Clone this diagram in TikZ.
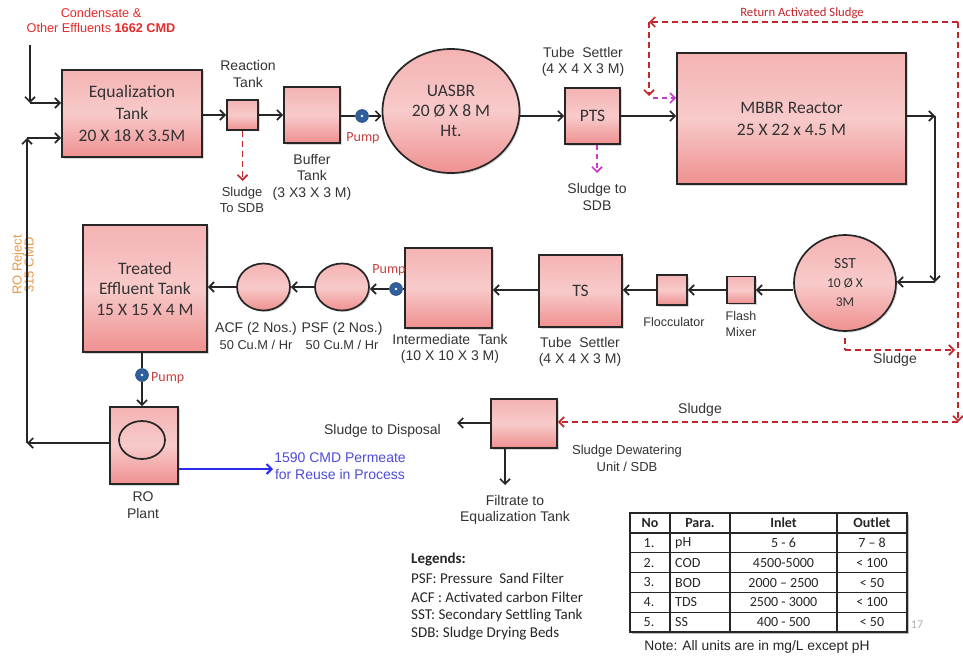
\documentclass[tikz,border=0pt]{standalone}
\usepackage{fontspec}
\setmainfont{Carlito}
\newfontfamily\arial{Liberation Sans}
\usetikzlibrary{arrows.meta,shapes.geometric,shadows}
\definecolor{pkT}{HTML}{F4B3B3}
\definecolor{pkM}{HTML}{F8CACA}
\definecolor{pkB}{HTML}{EF9090}
\definecolor{redT}{HTML}{E52B2B}
\definecolor{dred}{HTML}{C4262E}
\definecolor{mag}{HTML}{C83BC8}
\definecolor{bline}{HTML}{2B2BF0}
\definecolor{btext}{HTML}{4D4DD9}
\definecolor{orng}{HTML}{E39A4A}
\definecolor{pred}{HTML}{C84040}
\definecolor{pblue}{HTML}{2F5F9E}
\begin{document}
\begin{tikzpicture}[x=1pt,y=-1pt,
  tank/.style={draw=black!85, line width=1.7pt, top color=pkT, bottom color=pkB, middle color=pkM,
    drop shadow={shadow xshift=1.5pt,shadow yshift=-1.5pt,opacity=0.3},
    inner sep=0pt, align=center, text=black!80, font=\fontsize{17.5}{22}\selectfont},
  ell/.style={tank, ellipse},
  lbl/.style={align=center, inner sep=0pt, text=black!80, font=\arial\fontsize{14}{16.5}\selectfont},
  slbl/.style={lbl, font=\arial\fontsize{12.5}{16}\selectfont},
  pumpc/.style={circle, minimum size=13pt, inner sep=0pt, fill=pblue, draw=pblue!60!black, line width=0.4pt,
    path picture={\fill[white] (path picture bounding box.center) circle (1.4pt);}},
  pumpl/.style={inner sep=0pt, text=pred, font=\fontsize{14}{15}\selectfont},
  tip/.style={-{Straight Barb[length=5pt,width=10pt]}},
  flow/.style={draw=black!85, line width=1.7pt, tip},
  plain/.style={draw=black!85, line width=1.7pt},
  rflow/.style={draw=dred, line width=1.7pt, dash pattern=on 6pt off 4pt, tip},
  rline/.style={draw=dred, line width=1.7pt, dash pattern=on 6pt off 4pt},
  mflow/.style={draw=mag, line width=1.7pt, dash pattern=on 5pt off 4pt, tip},
  bflow/.style={draw=bline, line width=2pt, tip},
  cell/.style={inner sep=0pt, text=black!85, font=\fontsize{14}{15}\selectfont},
  hcell/.style={cell, font=\bfseries\fontsize{14}{15}\selectfont},
  legl/.style={anchor=west, inner sep=0pt, text=black!85, font=\fontsize{15}{17}\selectfont}
]
\useasboundingbox (0,0) rectangle (963,658);
\fill[white] (0,0) rectangle (963,658);

% ---------- top row ----------
\node[inner sep=0pt, align=center, text=redT, font=\arial\fontsize{12.7}{15}\selectfont] (cond) at (101,20)
  {Condensate \&\\Other Effluents \textbf{1662 CMD}};
\node[tank, minimum width=140pt, minimum height=87pt] (eq) at (132,113.5) {Equalization\\Tank\\20 X 18 X 3.5M};
\node[lbl] (rtl) at (248,74) {Reaction\\Tank};
\node[tank, minimum width=31pt, minimum height=30pt] (rt) at (242.5,115) {};
\node[lbl, font=\arial\fontsize{13}{16}\selectfont] (rts) at (242,200) {Sludge\\To SDB};
\node[tank, minimum width=56pt, minimum height=56pt] (buf) at (312,115) {};
\node[lbl] (bufl) at (312,177) {Buffer\\Tank\\(3 X3 X 3 M)};
\node[pumpc] (p1) at (362,116) {};
\node[pumpl] (p1l) at (363,138) {Pump};
\node[ell, minimum width=137pt, minimum height=124pt, font=\fontsize{17.5}{20}\selectfont] (ua) at (451,111) {UASBR\\20 Ø X 8 M\\Ht.};
\node[lbl] (tsl1) at (583,62) {Tube\ \ Settler\\(4 X 4 X 3 M)};
\node[tank, minimum width=55pt, minimum height=56pt] (pts) at (592.5,116) {PTS};
\node[lbl] (ptsl) at (597,197) {Sludge to\\SDB};
\node[tank, minimum width=229pt, minimum height=131pt] (mb) at (791.5,118.5) {MBBR Reactor\\25 X 22 x 4.5 M};
\node[inner sep=0pt, text=dred, font=\fontsize{12.7}{14}\selectfont] (ras) at (802,13) {Return Activated Sludge};

% ---------- middle row ----------
\node[ell, minimum width=102pt, minimum height=96pt, font=\fontsize{15.5}{19}\selectfont] (sst) at (845,283) {SST\\{\fontsize{13.5}{18}\selectfont 10 Ø X}\\{\fontsize{13.5}{18}\selectfont 3M}};
\node[tank, minimum width=28pt, minimum height=27pt] (fm) at (741,290) {};
\node[slbl] (fml) at (741,324) {Flash\\Mixer};
\node[tank, minimum width=30pt, minimum height=30pt] (fl) at (672,290) {};
\node[slbl] (fll) at (674,322) {Flocculator};
\node[tank, minimum width=83pt, minimum height=72pt] (ts) at (580.5,291) {TS};
\node[lbl] (tsl2) at (580,352) {Tube\ \ Settler\\(4 X 4 X 3 M)};
\node[tank, minimum width=87pt, minimum height=80pt] (im) at (448.5,288) {};
\node[lbl] (iml) at (450,349) {Intermediate\ \ Tank\\(10 X 10 X 3 M)};
\node[pumpc] (p2) at (396,289) {};
\node[pumpl] (p2l) at (389,270) {Pump};
\node[ell, minimum width=54pt, minimum height=47pt] (psf) at (342,287) {};
\node[lbl] (psfl) at (342,336) {PSF (2 Nos.)\\{\fontsize{12.8}{16}\selectfont 50 Cu.M / Hr}};
\node[ell, minimum width=53pt, minimum height=47pt] (acf) at (263.5,287) {};
\node[lbl] (acfl) at (256,336) {ACF (2 Nos.)\\{\fontsize{12.8}{16}\selectfont 50 Cu.M / Hr}};
\node[tank, minimum width=124pt, minimum height=127pt, font=\fontsize{17.5}{20.5}\selectfont] (te) at (145,288.5) {Treated\\Effluent Tank\\15 X 15 X 4 M};
\node[pumpc] (p3) at (142,375) {};
\node[pumpl, anchor=west] (p3l) at (151,378) {Pump};
\node[tank, minimum width=68pt, minimum height=77pt] (ro) at (144,445.5) {};
\node[draw=black!85, line width=1.7pt, ellipse, minimum width=46pt, minimum height=38pt, inner sep=0pt] (roi) at (142,440) {};
\node[lbl] (rol) at (143,505) {RO\\Plant};
\node[rotate=90, inner sep=0pt, align=center, text=orng, font=\arial\fontsize{13}{12}\selectfont] (rorj) at (23,265) {RO Reject\\315 CMD};

% ---------- bottom ----------
\node[tank, minimum width=66pt, minimum height=49pt] (sdb) at (524,423.5) {};
\node[lbl, font=\arial\fontsize{13}{16.5}\selectfont] (sdbl) at (627,458.5) {Sludge Dewatering\\Unit / SDB};
\node[lbl, anchor=east] (disp) at (441,431) {Sludge to Disposal};
\node[lbl] (filt) at (515,510) {Filtrate to\\Equalization Tank};
\node[lbl] (slab) at (700,410) {Sludge};
\node[lbl] (slab2) at (895,360) {Sludge};
\node[lbl, text=btext] (perm) at (340,466) {1590 CMD Permeate\\for Reuse in Process};

% ---------- connectors ----------
\coordinate (c0) at (30,45);
\coordinate (c01) at (30,103);
\draw[flow] (c0) -- (c01);
\draw[flow] (c01) -- (eq.west |- c01);
\coordinate (r1) at (27,443);
\coordinate (r2) at (27,138);
\draw[flow] (ro.west |- r1) -- (r1);
\draw[flow] (r1) -- (r2);
\draw[flow] (r2) -- (eq.west |- r2);

\draw[flow] (eq.east |- rt) -- (rt.west);
\draw[flow] (rt.east) -- (buf.west |- rt);
\coordinate (rts0) at (242.5,181);
\draw[rflow] (rt.south) -- (rts0);
\draw[plain] (buf.east |- p1) -- (p1);
\draw[flow] (p1) -- (ua.west |- p1);
\draw[flow] (ua.east |- pts) -- (pts.west);
\draw[flow] (pts.east) -- (mb.west |- pts);
\coordinate (pts0) at (597,173);
\draw[mflow] (pts.south -| pts0) -- (pts0);

\coordinate (m1) at (935,116);
\coordinate (m2) at (935,282);
\draw[flow] (mb.east |- m1) -- (m1);
\draw[flow] (m1) -- (m2);
\draw[flow] (m2) -- (sst.east |- m2);

\coordinate (s0) at (958,22);
\coordinate (s1) at (958,422);
\coordinate (s2) at (649,22);
\coordinate (s3) at (649,96);
\coordinate (s4) at (653,98);
\draw[rflow] (s0) -- (s2);
\draw[rflow] (s2) -- (s3);
\draw[mflow] (s4) -- (mb.west |- s4);
\draw[rflow] (s0) -- (s1);
\draw[rflow] (s1) -- (sdb.east |- s1);
\coordinate (q0) at (845,338);
\coordinate (q1) at (845,350);
\coordinate (q2) at (955,350);
\draw[rline] (q0) -- (q1);
\draw[rflow] (q1) -- (q2);

\draw[flow] (sst.west |- fm) -- (fm.east);
\draw[flow] (fm.west) -- (fl.east |- fm);
\draw[flow] (fl.west) -- (ts.east |- fl);
\draw[flow] (ts.west |- fl) -- (im.east |- fl);
\draw[plain] (im.west |- p2) -- (p2);
\draw[flow] (p2) -- (psf.east |- p2);
\draw[flow] (psf.west) -- (acf.east);
\draw[flow] (acf.west) -- (te.east |- acf);
\draw[plain] (te.south -| p3) -- (p3);
\draw[flow] (p3) -- (ro.north -| p3);

\coordinate (pm0) at (273,469);
\draw[bflow] (ro.east |- pm0) -- (pm0);
\coordinate (d0) at (457,423);
\draw[flow] (sdb.west |- d0) -- (d0);
\coordinate (f0) at (505,485);
\draw[flow] (sdb.south -| f0) -- (f0);

% ---------- legends ----------
\node[legl] (leg0) at (411,560) {\textbf{Legends:}};
\node[legl] (leg1) at (411,578.5) {PSF: Pressure\ \ Sand Filter};
\node[legl] (leg2) at (411,597) {ACF : Activated carbon Filter};
\node[legl] (leg3) at (411,615.5) {SST: Secondary Settling Tank};
\node[legl] (leg4) at (411,634) {SDB: Sludge Drying Beds};

% ---------- table ----------
\fill[black!25] (632,515) rectangle (909,634);
\fill[white] (630,513) rectangle (907,632);
\draw[black!85, line width=1.4pt] (630,513) rectangle (907,632);
\foreach \yy in {533,552.8,572.6,592.4,612.2} \draw[black!85, line width=1.2pt] (630,\yy) -- (907,\yy);
\foreach \xx in {670,730,837} \draw[black!85, line width=1.2pt] (\xx,513) -- (\xx,632);
\node[hcell] (h1) at (650,523) {No};
\node[hcell] (h2) at (700,523) {Para.};
\node[hcell] (h3) at (783.5,523) {Inlet};
\node[hcell] (h4) at (872,523) {Outlet};
\node[cell] (a1) at (649,542.9) {1.};
\node[cell, anchor=west] (a2) at (675,542.9) {pH};
\node[cell] (a3) at (783.5,542.9) {5 - 6};
\node[cell] (a4) at (872,542.9) {7 – 8};
\node[cell] (b1) at (649,562.7) {2.};
\node[cell, anchor=west] (b2) at (675,562.7) {COD};
\node[cell] (b3) at (783.5,562.7) {4500-5000};
\node[cell] (b4) at (872,562.7) {< 100};
\node[cell] (c1) at (649,582.5) {3.};
\node[cell, anchor=west] (c2) at (675,582.5) {BOD};
\node[cell] (c3) at (783.5,582.5) {2000 – 2500};
\node[cell] (c4) at (872,582.5) {< 50};
\node[cell] (d1) at (649,602.3) {4.};
\node[cell, anchor=west] (d2) at (675,602.3) {TDS};
\node[cell] (d3) at (783.5,602.3) {2500 - 3000};
\node[cell] (d4) at (872,602.3) {< 100};
\node[cell] (e1) at (649,622.1) {5.};
\node[cell, anchor=west] (e2) at (675,622.1) {SS};
\node[cell] (e3) at (783.5,622.1) {400 - 500};
\node[cell] (e4) at (872,622.1) {< 50};
\node[inner sep=0pt, text=black!30, font=\fontsize{12}{13}\selectfont] (pg) at (917,625) {17};
\node[inner sep=0pt, text=black!85, font=\arial\fontsize{13.8}{15}\selectfont] (note) at (757,647) {Note: All units are in mg/L except pH};
\end{tikzpicture}
\end{document}
